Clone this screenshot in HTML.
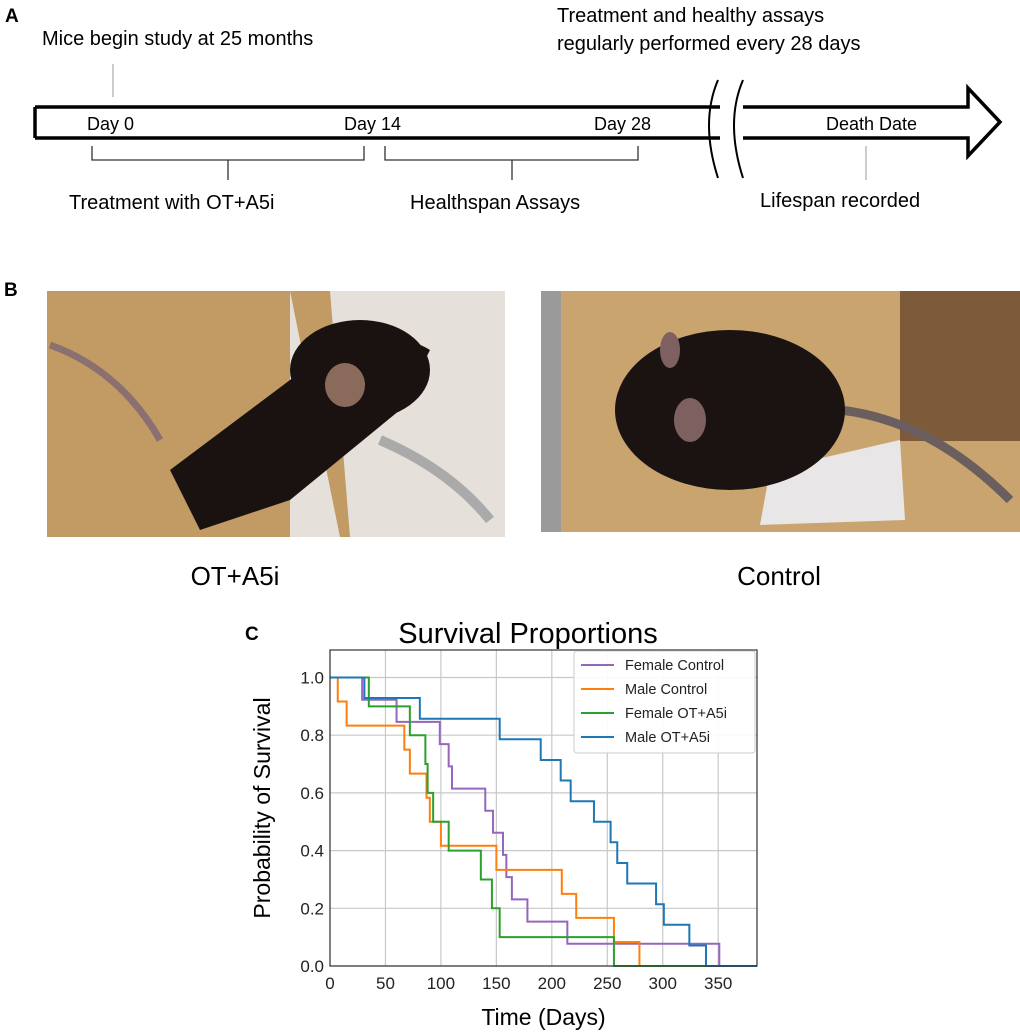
<!DOCTYPE html>
<html><head><meta charset="utf-8"><style>
html,body{margin:0;padding:0;background:#fff;}
svg{display:block;font-family:"Liberation Sans",sans-serif;}
</style></head><body>
<svg id="fig" width="1020" height="1033" viewBox="0 0 1020 1033">
<!-- Panel A -->
<g>
<text x="5" y="22" font-size="19" font-weight="bold">A</text>
<text x="42" y="45" font-size="20">Mice begin study at 25 months</text>
<text x="557" y="22" font-size="20">Treatment and healthy assays</text>
<text x="557" y="50" font-size="20">regularly performed every 28 days</text>
<line x1="113" y1="64" x2="113" y2="97" stroke="#bbb" stroke-width="1.5"/>
<path d="M35,107 L720,107 M35,138 L720,138 M35,107 L35,138" stroke="#000" stroke-width="3.5" fill="none"/>
<path d="M743,107 L968,107 L968,88 L1000,122 L968,156 L968,138 L743,138" stroke="#000" stroke-width="3.5" fill="none"/>
<path d="M718,80 Q700,122 718,178" stroke="#000" stroke-width="2" fill="none"/>
<path d="M743,80 Q725,122 743,178" stroke="#000" stroke-width="2" fill="none"/>
<text x="87" y="130" font-size="18">Day 0</text>
<text x="344" y="130" font-size="18">Day 14</text>
<text x="594" y="130" font-size="18">Day 28</text>
<text x="826" y="130" font-size="18">Death Date</text>
<path d="M92,146 L92,160 L364,160 L364,146 M228,160 L228,180" stroke="#333" stroke-width="1.3" fill="none"/>
<path d="M385,146 L385,160 L638,160 L638,146 M512,160 L512,180" stroke="#333" stroke-width="1.3" fill="none"/>
<line x1="866" y1="146" x2="866" y2="180" stroke="#bbb" stroke-width="1.5"/>
<text x="69" y="209" font-size="20">Treatment with OT+A5i</text>
<text x="410" y="209" font-size="20">Healthspan Assays</text>
<text x="760" y="207" font-size="20">Lifespan recorded</text>
</g>
<!-- Panel B -->
<g>
<text x="4" y="296" font-size="19" font-weight="bold">B</text>
<g>
<rect x="47" y="291" width="458" height="246" fill="#c29a63"/>
<rect x="290" y="291" width="215" height="246" fill="#e6e0da"/>
<polygon points="290,291 330,291 350,537 340,537" fill="#c29a63"/>
<path d="M50,345 Q120,370 160,440" stroke="#8a7070" stroke-width="7" fill="none"/>
<path d="M380,440 Q450,470 490,520" stroke="#aaa" stroke-width="10" fill="none"/>
<path d="M170,470 L330,350 Q400,330 430,350 L400,410 L290,500 L200,530 Z" fill="#1a1210"/>
<ellipse cx="360" cy="370" rx="70" ry="50" fill="#1a1210"/>
<ellipse cx="345" cy="385" rx="20" ry="22" fill="#8a6a5a"/>
</g>
<g>
<rect x="541" y="291" width="479" height="241" fill="#c9a46f"/>
<rect x="900" y="291" width="120" height="150" fill="#7d5a3a"/>
<rect x="541" y="291" width="20" height="241" fill="#9a9a9a"/>
<path d="M770,470 L900,440 L905,520 L760,525 Z" fill="#e8e6e6"/>
<path d="M840,410 Q930,420 1010,500" stroke="#6a5e5e" stroke-width="9" fill="none"/>
<ellipse cx="730" cy="410" rx="115" ry="80" fill="#1a1312"/>
<ellipse cx="660" cy="410" rx="40" ry="38" fill="#1a1312"/>
<ellipse cx="690" cy="420" rx="16" ry="22" fill="#7e6060"/>
<ellipse cx="670" cy="350" rx="10" ry="18" fill="#7e6060"/>
</g>
<text x="235" y="585" font-size="26" text-anchor="middle">OT+A5i</text>
<text x="779" y="585" font-size="26" text-anchor="middle">Control</text>
</g>
<!-- Panel C -->
<text x="245" y="640" font-size="19" font-weight="bold">C</text>
<g id="chart"></g>
<text x="528" y="643" font-size="29" text-anchor="middle">Survival Proportions</text>
</svg>
<script>
const xTicks = [0,50,100,150,200,250,300,350];
const yTicks = [0.0,0.2,0.4,0.6,0.8,1.0];
const seriesNames = ["Female Control","Male Control","Female OT+A5i","Male OT+A5i"];
const seriesColors = ["#9467bd","#ff7f0e","#2ca02c","#1f77b4"];
const femaleControlTimes = [0,29,60,99,107,110,140,147,156,159,164,178,214,351];
const femaleControlSurv  = [1,0.923,0.846,0.769,0.692,0.615,0.538,0.462,0.385,0.308,0.231,0.154,0.077,0];
const maleControlTimes = [0,7,15,67,72,87,90,100,150,209,222,256,279];
const maleControlSurv  = [1,0.917,0.833,0.75,0.667,0.583,0.5,0.417,0.333,0.25,0.167,0.083,0];
const femaleOTTimes = [0,35,72,86,88,93,107,136,146,153,256];
const femaleOTSurv  = [1,0.9,0.8,0.7,0.6,0.5,0.4,0.3,0.2,0.1,0];
const maleOTTimes = [0,31,81,153,190,208,217,238,253,259,268,294,301,324,339];
const maleOTSurv  = [1,0.929,0.857,0.786,0.714,0.643,0.571,0.5,0.429,0.357,0.286,0.214,0.143,0.071,0];
const xEnd = 385;

const NS = "http://www.w3.org/2000/svg";
const L = 330, R = 757, T = 650, B = 966;
const xs = d => L + (d / xEnd) * (R - L);
const yv = v => 966 - v * 288.5;
const g = document.getElementById('chart');
function mk(tag, attrs){const e=document.createElementNS(NS,tag);for(const k in attrs)e.setAttribute(k,attrs[k]);g.appendChild(e);return e;}
let bg = mk('rect',{x:L,y:T,width:R-L,height:B-T,fill:'#fff'});


xTicks.forEach(t=>{
  const gl = mk('line',{x1:xs(t),x2:xs(t),y1:T,y2:B,stroke:'#c8c8c8','stroke-width':1.2});
  
  
  const tx = mk('text',{x:xs(t),y:B+23,'font-size':17,'text-anchor':'middle',fill:'#222'});
  tx.textContent = t;
  
  
});
yTicks.forEach(t=>{
  const gl = mk('line',{x1:L,x2:R,y1:yv(t),y2:yv(t),stroke:'#c8c8c8','stroke-width':1.2});
  
  
  const tx = mk('text',{x:L-6,y:yv(t)+6,'font-size':17,'text-anchor':'end',fill:'#222'});
  tx.textContent = t.toFixed(1);
  
  
});
const allT=[femaleControlTimes,maleControlTimes,femaleOTTimes,maleOTTimes];
const allS=[femaleControlSurv,maleControlSurv,femaleOTSurv,maleOTSurv];
allT.forEach((times,i)=>{
  const s=allS[i];
  let d='M'+xs(times[0])+','+yv(s[0]);
  for(let k=1;k<times.length;k++){d+=' H'+xs(times[k])+' V'+yv(s[k]);}
  d+=' H'+xs(xEnd);
  const p = mk('path',{d:d,fill:'none',stroke:seriesColors[i],'stroke-width':2});
  
  
});
const frame = mk('rect',{x:L,y:T,width:R-L,height:B-T,fill:'none',stroke:'#333','stroke-width':1.2});


const lg = mk('rect',{x:574,y:651,width:181,height:102,rx:3,fill:'#fff','fill-opacity':0.9,stroke:'#ccc'});


seriesNames.forEach((n,i)=>{
  const y=665+i*24;
  const ln = mk('line',{x1:581,x2:614,y1:y,y2:y,stroke:seriesColors[i],'stroke-width':2});
  
  
  const tx = mk('text',{x:625,y:y+5,'font-size':14.5,fill:'#222'});
  tx.textContent=n;
  
  
});
const xl = mk('text',{x:(L+R)/2,y:1025,'font-size':23,'text-anchor':'middle'});
xl.textContent='Time (Days)';


const yl = mk('text',{x:0,y:0,'font-size':23,'text-anchor':'middle',transform:'translate(270,808) rotate(-90)'});
yl.textContent='Probability of Survival';


</script>
</body></html>
